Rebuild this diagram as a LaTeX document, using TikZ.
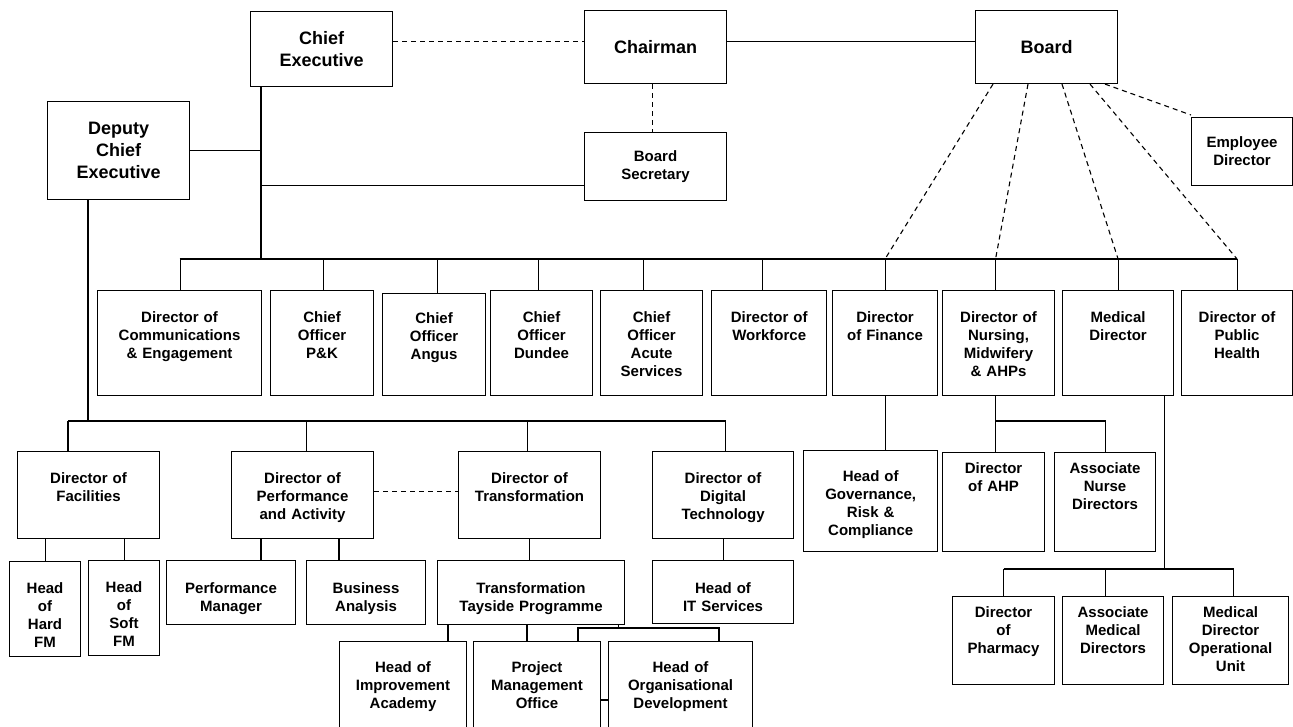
\documentclass[tikz,border=0pt]{standalone}
\usepackage{fontspec}
\setmainfont{Liberation Sans}
\begin{document}
\begin{tikzpicture}[x=1pt, y=-1pt, line width=1.1pt,
    font=\bfseries\fontsize{15}{18}\selectfont,
    chiefbox/.style 2 args={draw, inner sep=0pt, anchor=north west, minimum width=#1pt, minimum height=#2pt, align=center},
    deptbox/.style n args={3}{draw, inner sep=0pt, anchor=north west, text width=#1pt, text height=#2pt, text depth=#3pt, align=center},
    big/.style={font=\bfseries\fontsize{18}{22}\selectfont},
    link/.style={dash pattern=on 5pt off 4pt}]
    \useasboundingbox (0,0) rectangle (1293,727);

%   top of the chart
    \node[chiefbox={142}{75}, big] (ceo) at (250,11) {Chief\\Executive};
    \node[chiefbox={142}{73}, big] (chair) at (584,10) {Chairman};
    \node[chiefbox={142}{73}, big] (board) at (975,10) {Board};
    \node[chiefbox={142}{98}, big] (dce) at (47,101) {Deputy\\Chief\\Executive};
    \node[chiefbox={142}{68}] (bsec) at (584,132) {Board\\Secretary};
    \node[chiefbox={101}{68}] (empdir) at (1191,117) {Employee\\Director};

%   directors
    \node[deptbox={164}{32}{73}] (comms) at (97,290) {Director of\\Communications\\\& Engagement};
    \node[deptbox={103}{32}{73}] (pk) at (270,290) {Chief\\Officer\\P\&K};
    \node[deptbox={103}{30}{72}] (angus) at (382,293) {Chief\\Officer\\Angus};
    \node[deptbox={102}{32}{73}] (dundee) at (490,290) {Chief\\Officer\\Dundee};
    \node[deptbox={102}{32}{73}] (acute) at (600,290) {Chief\\Officer\\Acute\\Services};
    \node[deptbox={115}{32}{73}, line width=1.4pt] (workf) at (711,290) {Director of\\Workforce};
    \node[deptbox={105}{32}{73}] (finance) at (832,290) {Director\\of Finance};
    \node[deptbox={112}{32}{73}] (nursing) at (942,290) {Director of\\Nursing,\\Midwifery\\\& AHPs};
    \node[deptbox={111}{32}{73}] (medical) at (1062,290) {Medical\\Director};
    \node[deptbox={111}{32}{73}] (pubh) at (1181,290) {Director of\\Public\\Health};

%   deputy chief executive side
    \node[deptbox={142}{32}{55}] (facil) at (17,451) {Director of\\Facilities};
    \node[deptbox={142}{32}{55}] (perf) at (231,451) {Director of\\Performance\\and Activity};
    \node[deptbox={142}{32}{55}] (transf) at (458,451) {Director of\\Transformation};
    \node[deptbox={141}{32}{55}] (digital) at (652,451) {Director of\\Digital\\Technology};
    \node[deptbox={71}{32}{63}] (hardfm) at (9,561) {Head\\of\\Hard\\FM};
    \node[deptbox={71}{32}{63}] (softfm) at (88,560) {Head\\of\\Soft\\FM};
    \node[deptbox={129}{33}{31}] (perfmgr) at (166,560) {Performance\\Manager};
    \node[deptbox={119}{33}{31}] (busan) at (306,560) {Business\\Analysis};
    \node[deptbox={187}{33}{31}] (ttp) at (437,560) {Transformation\\Tayside Programme};
    \node[deptbox={141}{33}{30}] (itserv) at (652,560) {Head of\\IT Services};
    \node[deptbox={127}{31}{120}] (improv) at (339,641) {Head of\\Improvement\\Academy};
    \node[deptbox={127}{31}{120}] (pmo) at (473,641) {Project\\Management\\Office};
    \node[deptbox={144}{31}{120}] (orgdev) at (608,641) {Head of\\Organisational\\Development};

%   finance, nursing and medical side
    \node[deptbox={134}{31}{70}, line width=1.4pt] (govern) at (803,450) {Head of\\Governance,\\Risk \&\\Compliance};
    \node[deptbox={102}{21}{78}] (ahp) at (942,452) {Director\\of AHP};
    \node[deptbox={101}{21}{78}] (anurse) at (1054,452) {Associate\\Nurse\\Directors};
    \node[deptbox={102}{21}{67}] (pharm) at (952,596) {Director\\of\\Pharmacy};
    \node[deptbox={101}{21}{67}] (amed) at (1062,596) {Associate\\Medical\\Directors};
    \node[deptbox={116}{21}{67}] (mdou) at (1172,596) {Medical\\Director\\Operational\\Unit};

    \coordinate (bus) at (0,259);
    \coordinate (lbus) at (0,421);
    \coordinate (mbus) at (0,569);
    \coordinate (cev) at ([xshift=11pt]ceo.south west);
    \coordinate (dcev) at ([xshift=41pt]dce.south west);
    \coordinate (mdv) at ([xshift=-10pt]medical.south east);

%   lines at the top
    \draw[link] ([yshift=7.5pt]ceo.east) -- ([yshift=7.5pt]ceo.east -| chair.west);
    \draw ([yshift=5.5pt]chair.east) -- ([yshift=5.5pt]chair.east -| board.west);
    \draw[link] ([xshift=-3pt]chair.south) -- ([xshift=-3pt]chair.south |- bsec.north);
    \draw (cev) -- (cev |- bus);
    \draw (dce.east) -- (dce.east -| cev);
    \draw ([yshift=-19pt]bsec.west) -- ([yshift=-19pt]bsec.west -| cev);
    \draw (comms.north |- bus) -- (pubh.north |- bus);
    \foreach \n/\s in {comms/1,pk/1,angus/3,dundee/-3,acute/-8,workf/-7,finance/0,nursing/-3,medical/0,pubh/0}
        \draw ([xshift=\s pt]\n.north) -- ([xshift=\s pt]\n.north |- bus);
    \draw[link] ([xshift=18pt]board.south west) -- (finance.north |- bus);
    \draw[link] ([xshift=53pt]board.south west) -- ([xshift=-3pt]nursing.north |- bus);
    \draw[link] ([xshift=87pt]board.south west) -- (medical.north |- bus);
    \draw[link] ([xshift=115pt]board.south west) -- (pubh.north |- bus);
    \draw[link] ([xshift=130pt]board.south west) -- ([yshift=2pt]empdir.north west);

%   lines under the deputy
    \draw (dcev) -- (dcev |- lbus);
    \draw ([xshift=51pt]facil.north west |- lbus) -- ([xshift=2.5pt]digital.north |- lbus);
    \foreach \n/\s in {perf/4,transf/-2,digital/2.5}
        \draw ([xshift=\s pt]\n.north) -- ([xshift=\s pt]\n.north |- lbus);
    \draw ([xshift=51pt]facil.north west) -- ([xshift=51pt]facil.north west |- lbus);
    \draw[link] ([yshift=4pt]perf.east) -- ([yshift=4pt]perf.east -| transf.west);
    \draw (hardfm.north) -- (hardfm.north |- facil.south);
    \draw (softfm.north) -- (softfm.north |- facil.south);
    \draw ([xshift=95pt]perfmgr.north west) -- ([xshift=95pt]perfmgr.north west |- perf.south);
    \draw ([xshift=33pt]busan.north west) -- ([xshift=33pt]busan.north west |- perf.south);
    \draw (transf.south) -- (transf.south |- ttp.north);
    \draw (digital.south) -- (digital.south |- itserv.north);
    \draw ([xshift=109pt]improv.north west) -- ([xshift=109pt]improv.north west |- ttp.south);
    \draw ([xshift=54pt]pmo.north west) -- ([xshift=54pt]pmo.north west |- ttp.south);
    \draw ([xshift=-7pt]ttp.south east) -- ++(0,4);
    \draw ([xshift=105pt]pmo.north west) |- ([xshift=111pt,yshift=13pt]orgdev.north west) -- ([xshift=111pt]orgdev.north west);
    \draw ([yshift=-59pt]pmo.north east) -- ([yshift=-59pt]orgdev.north west);

%   lines on the right
    \draw (finance.south) -- (finance.south |- govern.north);
    \draw ([xshift=-3pt]nursing.south) -- ([xshift=-3pt]nursing.south |- ahp.north);
    \draw ([xshift=-3pt]nursing.south |- lbus) -| (anurse.north);
    \draw (mdv) -- (mdv |- mbus);
    \draw (pharm.north |- mbus) -- ([xshift=3pt]mdou.north |- mbus);
    \foreach \n/\s in {pharm/0,amed/-7.5,mdou/3}
        \draw ([xshift=\s pt]\n.north) -- ([xshift=\s pt]\n.north |- mbus);
\end{tikzpicture}
\end{document}
